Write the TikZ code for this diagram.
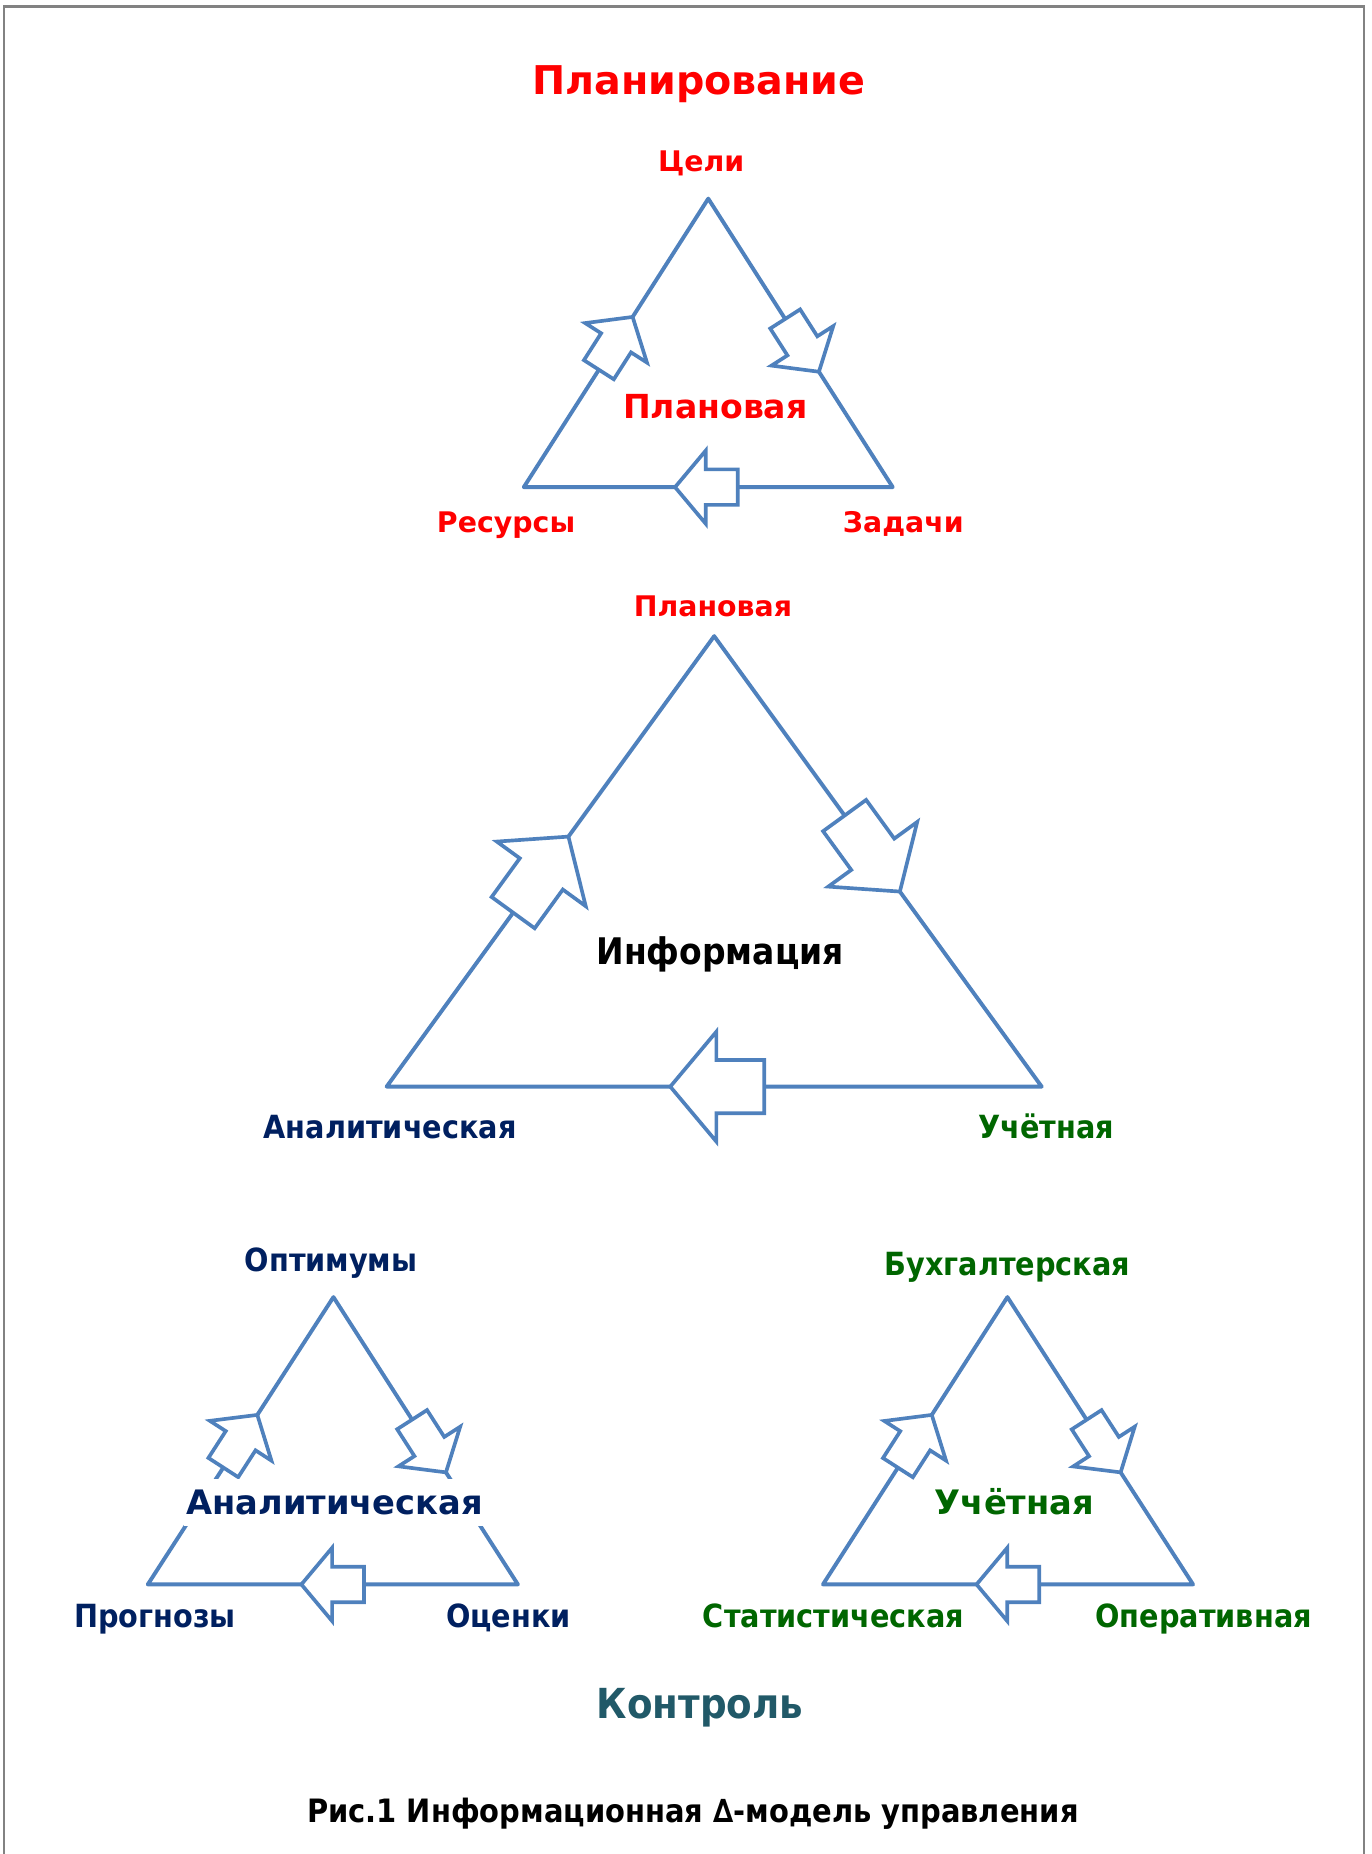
\documentclass[tikz,border=0pt]{standalone}
\usepackage{fontspec}
\setmainfont{DejaVu Sans}
\newfontfamily\narrowfont{DejaVu Sans Condensed}
\definecolor{sideblue}{RGB}{79,129,189}
\definecolor{planred}{RGB}{255,0,0}
\definecolor{analnavy}{RGB}{0,32,96}
\definecolor{uchgreen}{RGB}{0,102,0}
\definecolor{ctrlteal}{RGB}{33,89,104}
\definecolor{framegray}{RGB}{130,130,130}
\def\arrowshape{(0,0) -- (-26,31) -- (-26,15) -- (-53,15) -- (-53,-15) -- (-26,-15) -- (-26,-31) -- cycle}
\tikzset{
	side/.style={draw=sideblue, line width=3.3pt, line join=round},
	pics/flowarrow/.style={code={\draw[sideblue, line width=3.1pt, fill=white] \arrowshape;}},
	onside/.style={sloped, allow upside down, pos=#1},
	wlab/.style={font=\bfseries\fontsize{24}{28}\selectfont, anchor=base, inner sep=0pt},
	nlab/.style={font=\narrowfont\bfseries\fontsize{27}{30}\selectfont, anchor=base, inner sep=0pt}
}
\begin{document}
\begin{tikzpicture}[x=1pt,y=-1pt]
\useasboundingbox (0,0) rectangle (1160,1568);
\draw[framegray, line width=2pt] (3.5,1570) -- (3.5,5.5) -- (1153.5,5.5) -- (1153.5,1570);
% planning triangle
\coordinate (pa) at (599,168);
\coordinate (pl) at (443,412);
\coordinate (pr) at (755,412);
\draw[side] (pl) -- (pa) -- (pr) -- cycle;
\path (pl) -- (pa) pic[onside=.59]{flowarrow};
\path (pa) -- (pr) pic[onside=.60]{flowarrow};
\path (pr) -- (pl) pic[onside=.59]{flowarrow};
% information triangle
\coordinate (ia) at (604,538);
\coordinate (il) at (327,919);
\coordinate (ir) at (881,919);
\draw[side] (il) -- (ia) -- (ir) -- cycle;
\path (il) -- (ia) pic[onside=.555, scale=1.5]{flowarrow};
\path (ia) -- (ir) pic[onside=.567, scale=1.5]{flowarrow};
\path (ir) -- (il) pic[onside=.567, scale=1.5]{flowarrow};
% analytic triangle
\coordinate (aa) at (282,1097);
\coordinate (al) at (125,1340);
\coordinate (ar) at (438,1340);
\draw[side] (al) -- (aa) -- (ar) -- cycle;
\path (al) -- (aa) pic[onside=.59]{flowarrow};
\path (aa) -- (ar) pic[onside=.61]{flowarrow};
\path (ar) -- (al) pic[onside=.585]{flowarrow};
% accounting triangle
\coordinate (ua) at (852,1097);
\coordinate (ul) at (696,1340);
\coordinate (ur) at (1009,1340);
\draw[side] (ul) -- (ua) -- (ur) -- cycle;
\path (ul) -- (ua) pic[onside=.59]{flowarrow};
\path (ua) -- (ur) pic[onside=.61]{flowarrow};
\path (ur) -- (ul) pic[onside=.585]{flowarrow};
% labels
\node[wlab, planred, font=\bfseries\fontsize{33.5}{36}\selectfont] (plantitle) at (591,80) {Планирование};
\node[wlab, planred] (goals) at (593,145) {Цели};
\node[wlab, planred, font=\bfseries\fontsize{28}{32}\selectfont] (planin) at (605,354) {Плановая};
\node[wlab, planred] (resources) at (428,450) {Ресурсы};
\node[wlab, planred] (tasks) at (764,450) {Задачи};
\node[wlab, planred] (planmid) at (603,521) {Плановая};
\node[nlab, font=\narrowfont\bfseries\fontsize{31}{34}\selectfont] (info) at (609,816) {Информация};
\node[nlab, analnavy] (analmid) at (330,963) {Аналитическая};
\node[nlab, uchgreen] (uchmid) at (885,963) {Учётная};
\node[nlab, analnavy] (optima) at (280,1075) {Оптимумы};
\node[nlab, uchgreen] (buh) at (852,1079) {Бухгалтерская};
\node[wlab, analnavy, fill=white, inner xsep=2pt, inner ysep=9pt, font=\bfseries\fontsize{28.5}{30}\selectfont] (analin) at (283,1281) {Аналитическая};
\node[wlab, uchgreen, font=\bfseries\fontsize{28.5}{30}\selectfont] (uchin) at (858,1281) {Учётная};
\node[nlab, analnavy] (forecasts) at (131,1376) {Прогнозы};
\node[nlab, analnavy] (ratings) at (430,1376) {Оценки};
\node[nlab, uchgreen] (stat) at (705,1376) {Статистическая};
\node[nlab, uchgreen] (oper) at (1018,1376) {Оперативная};
\node[nlab, ctrlteal, font=\narrowfont\bfseries\fontsize{35}{38}\selectfont] (control) at (592,1453) {Контроль};
\node[nlab, font=\narrowfont\bfseries\fontsize{27.2}{30}\selectfont] (caption) at (586,1541) {Рис.1 Информационная ∆-модель управления};
\end{tikzpicture}
\end{document}
